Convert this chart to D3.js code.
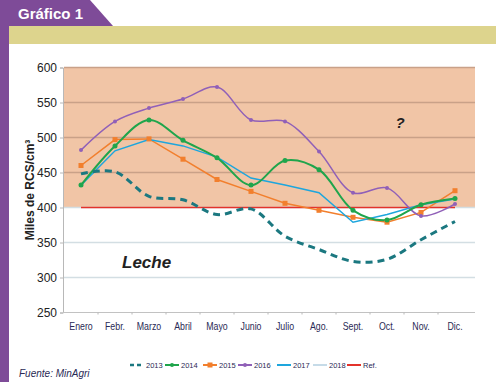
<!DOCTYPE html>
<html>
<head>
<meta charset="utf-8">
<script src="https://cdn.jsdelivr.net/npm/d3@7"></script>
<style>
  body { margin: 0; background: #fff; }
  svg { display: block; font-family: "Liberation Sans", Arial, sans-serif; }
</style>
</head>
<body>
<div class="container"></div>
<script>
// datos
var meses = ["Enero", "Febr.", "Marzo", "Abril", "Mayo", "Junio", "Julio", "Ago.", "Sept.", "Oct.", "Nov.", "Dic."];
var s2013 = [448, 451, 416, 411, 390, 398, 359, 340, 323, 326, 354, 380];
var s2014 = [432, 488, 525, 496, 471, 432, 467, 454, 396, 382, 404, 413];
var s2015 = [460, 497, 498, 469, 440, 423, 406, 396, 386, 379, 393, 424];
var s2016 = [482, 523, 542, 555, 572, 525, 523, 480, 421, 428, 388, 405];
var s2017 = [432, 481, 497, 488, 472, 442, 432, 421, 379, 390, 404, 412];
var ref = [400, 400, 400, 400, 400, 400, 400, 400, 400, 400, 400, 400];
var yTicks = [250, 300, 350, 400, 450, 500, 550, 600];
var leyenda = ["2013", "2014", "2015", "2016", "2017", "2018", "Ref."];

var W = 496, H = 382;
var svg = d3.select(".container").append("svg")
  .attr("width", W).attr("height", H);

// marco morado y título
svg.append("rect").attr("x", 0).attr("y", 0).attr("width", 9).attr("height", H).attr("fill", "#7e4b98");
svg.append("path").attr("d", "M0,0 L90,0 L113,26 L0,26 Z").attr("fill", "#7e4b98");
svg.append("rect").attr("x", 9).attr("y", 26).attr("width", W - 9).attr("height", 18).attr("fill", "#ddd48d");
svg.append("text").attr("x", 18).attr("y", 19).attr("fill", "#fff")
  .style("font-size", "15px").style("font-weight", "bold").text("Gráfico 1");

// escalas
var x = d3.scaleBand().domain(meses).range([64, 472]);
var y = d3.scaleLinear().domain([250, 600]).range([312.5, 67.5]);
var cx = function(d, i) { return x(meses[i]) + x.bandwidth() / 2; };

// zona sombreada
svg.append("rect").attr("x", 64).attr("y", y(600)).attr("width", 411)
  .attr("height", y(400) - y(600)).attr("fill", "#f1c5a6");

// grilla
svg.append("g").selectAll("line").data(yTicks.filter(function(d) { return d > 250; }))
  .enter().append("line")
  .attr("x1", 64).attr("x2", 475)
  .attr("y1", function(d) { return y(d); }).attr("y2", function(d) { return y(d); })
  .attr("stroke", function(d) { return d > 400 ? "#c9a188" : "#d3dee3"; })
  .attr("stroke-width", 1.5);

// ejes
var yAxis = svg.append("g").attr("transform", "translate(63,0)")
  .call(d3.axisLeft(y).tickValues(yTicks).tickSize(3).tickPadding(3));
yAxis.selectAll("text").style("font-size", "12px").attr("fill", "#222");
yAxis.selectAll("line, path").attr("stroke", "#b8b8b8");

var xAxis = svg.append("g").attr("transform", "translate(0," + y(250) + ")")
  .call(d3.axisBottom(x).tickSize(0).tickPadding(10));
xAxis.select("path").attr("stroke", "#c2c2c2").attr("d", "M63,0H475");
xAxis.selectAll("text").style("font-size", "10px").attr("fill", "#2a2a55")
  .style("font-family", "'Liberation Sans Narrow', 'Arial Narrow', sans-serif")
  .attr("transform", "scale(0.88,1)");
xAxis.selectAll(".sep").data(meses.slice(1)).enter().append("line").attr("class", "sep")
  .attr("x1", function(d) { return x(d); }).attr("x2", function(d) { return x(d); })
  .attr("y1", 0).attr("y2", 2).attr("stroke", "#b8b8b8");

svg.append("text").attr("transform", "translate(34,190) rotate(-90)")
  .attr("text-anchor", "middle").style("font-size", "12px").style("font-weight", "bold")
  .attr("fill", "#222").text("Miles de RCS/cm³");

// líneas
var smooth = d3.line().x(cx).y(function(d) { return y(d); }).curve(d3.curveCatmullRom.alpha(0.5));
var lineal = d3.line().x(cx).y(function(d) { return y(d); });

svg.append("path").attr("d", lineal(ref)).attr("fill", "none").attr("stroke", "#e3322b").attr("stroke-width", 1.5);
svg.append("path").attr("d", lineal(s2015)).attr("fill", "none").attr("stroke", "#f27f2d").attr("stroke-width", 1.5);
svg.append("path").attr("d", lineal(s2017)).attr("fill", "none").attr("stroke", "#1ea6dd").attr("stroke-width", 1.5);
svg.append("path").attr("d", smooth(s2016)).attr("fill", "none").attr("stroke", "#9060b8").attr("stroke-width", 1.5);
svg.append("path").attr("d", smooth(s2014)).attr("fill", "none").attr("stroke", "#1fa54c").attr("stroke-width", 2);
svg.append("path").attr("d", smooth(s2013)).attr("fill", "none").attr("stroke", "#1b7880")
  .attr("stroke-width", 3).attr("stroke-dasharray", "7,5");

// marcadores
svg.append("g").selectAll("rect").data(s2015).enter().append("rect")
  .attr("x", function(d, i) { return cx(d, i) - 2.5; }).attr("y", function(d) { return y(d) - 2.5; })
  .attr("width", 5).attr("height", 5).attr("fill", "#f27f2d");
svg.append("g").selectAll("circle").data(s2016).enter().append("circle")
  .attr("cx", cx).attr("cy", function(d) { return y(d); }).attr("r", 2).attr("fill", "#9060b8");
svg.append("g").selectAll("circle").data(s2014).enter().append("circle")
  .attr("cx", cx).attr("cy", function(d) { return y(d); }).attr("r", 2.5).attr("fill", "#1fa54c");

// anotaciones
svg.append("text").attr("x", 400).attr("y", 128).attr("text-anchor", "middle")
  .style("font-size", "15px").style("font-weight", "bold").style("font-style", "italic").attr("fill", "#222").text("?");
svg.append("text").attr("x", 122).attr("y", 268)
  .style("font-size", "17px").style("font-weight", "bold").style("font-style", "italic").attr("fill", "#222").text("Leche");

// leyenda
var colores = ["#1b7880", "#1fa54c", "#f27f2d", "#9060b8", "#1ea6dd", "#c6dbe8", "#e3322b"];
var legX = [130, 165, 203, 238, 277, 313, 347];
var leg = svg.append("g").selectAll("g").data(leyenda).enter().append("g")
  .attr("transform", function(d, i) { return "translate(" + legX[i] + ",365)"; });
leg.append("line").attr("x1", 0).attr("x2", 14).attr("y1", 0).attr("y2", 0)
  .attr("stroke", function(d, i) { return colores[i]; })
  .attr("stroke-width", function(d, i) { return i === 0 ? 2.5 : 2; })
  .attr("stroke-dasharray", function(d, i) { return i === 0 ? "4,3" : null; });
leg.filter(function(d, i) { return i === 2; }).append("rect")
  .attr("x", 4.5).attr("y", -2.5).attr("width", 5).attr("height", 5).attr("fill", "#f27f2d");
leg.filter(function(d, i) { return i === 1 || i === 3; }).append("circle")
  .attr("cx", 7).attr("cy", 0).attr("r", 2)
  .attr("fill", function(d, i) { return d === "2014" ? "#1fa54c" : "#9060b8"; });
leg.append("text").attr("x", 16).attr("y", 3).style("font-size", "7.5px").attr("fill", "#2a2a55")
  .style("font-family", "'Liberation Sans Narrow', 'Arial Narrow', sans-serif").text(function(d) { return d; });

svg.append("text").attr("x", 19).attr("y", 377).style("font-size", "10px").style("font-style", "italic")
  .attr("fill", "#2a2a55").text("Fuente: MinAgri");
</script>
</body>
</html>
